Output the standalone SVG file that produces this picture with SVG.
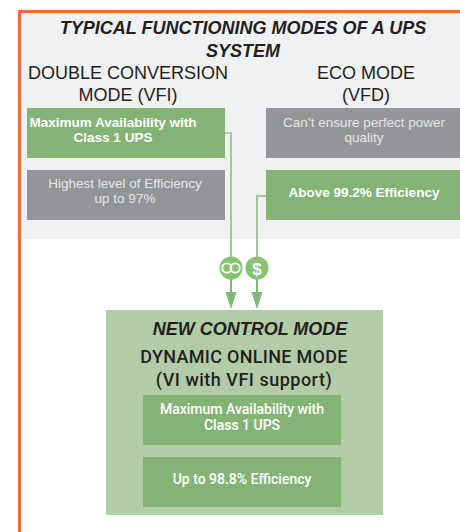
<svg xmlns="http://www.w3.org/2000/svg" width="460" height="532" viewBox="0 0 460 532">
<defs>
<style>
.t{font-family:"Liberation Sans",Arial,sans-serif;text-anchor:middle}
.m{font-family:Roboto,"Liberation Sans",Arial,sans-serif;font-weight:500}
.h{font-size:18px;fill:#231f20}
.hb{font-weight:bold;font-style:italic}
.s{font-size:13.5px}
.w{fill:#ffffff}
.g{fill:#e4e4e6}
.gb{fill:#84b475}
.gy{fill:#949599}
.con{fill:none;stroke:#9ecb96;stroke-width:2}
.con2{fill:none;stroke:#7fb872;stroke-width:2}
.arr{fill:#7fb872}
.ic{fill:#86c472}
</style>
</defs>
<rect x="0" y="0" width="460" height="532" fill="#ffffff"/>
<rect x="19.5" y="11.5" width="460" height="540" fill="none" stroke="#f26a35" stroke-width="3"/>
<rect x="23" y="14" width="437" height="225" fill="#f0f1f3"/>
<g id="title">
<text class="t h hb" x="243" y="34" font-size="18.5">TYPICAL FUNCTIONING MODES OF A UPS</text>
<text class="t h hb" x="243" y="57" font-size="18.5">SYSTEM</text>
</g>
<g id="vfi-header">
<text class="t h" x="128" y="79">DOUBLE CONVERSION</text>
<text class="t h" x="128" y="101">MODE (VFI)</text>
</g>
<g id="eco-header">
<text class="t h" x="366" y="79">ECO MODE</text>
<text class="t h" x="366" y="101">(VFD)</text>
</g>
<g id="vfi-availability">
<rect class="gb" x="27" y="108" width="198" height="50"/>
<text class="t s w" x="113" y="127" font-weight="bold">Maximum Availability with</text>
<text class="t s w" x="113" y="142" font-weight="bold">Class 1 UPS</text>
</g>
<g id="vfi-efficiency">
<rect class="gy" x="27" y="170" width="198" height="50"/>
<text class="t s g" x="125" y="188">Highest level of Efficiency</text>
<text class="t s g" x="125" y="203">up to 97%</text>
</g>
<g id="eco-quality">
<rect class="gy" x="266" y="108" width="194" height="50"/>
<text class="t s g" x="364" y="127">Can’t ensure perfect power</text>
<text class="t s g" x="364" y="142">quality</text>
</g>
<g id="eco-efficiency">
<rect class="gb" x="266" y="170" width="194" height="50"/>
<text class="t s w" x="364" y="197" font-weight="bold">Above 99.2% Efficiency</text>
</g>
<g id="connectors">
<path class="con" d="M225,133 H231 V257"/>
<path class="con" d="M266,196 H257 V257"/>
<path class="con2" d="M231,279 V293"/>
<path class="con2" d="M257,279 V293"/>
<polygon class="arr" points="225.5,292 236.5,292 231,309"/>
<polygon class="arr" points="251.5,292 262.5,292 257,309"/>
</g>
<g id="icon-availability">
<circle class="ic" cx="231" cy="268" r="11.5"/>
<circle cx="226.8" cy="268" r="4.6" fill="none" stroke="#ffffff" stroke-width="1.8"/>
<circle cx="235.2" cy="268" r="4.6" fill="none" stroke="#ffffff" stroke-width="1.8"/>
</g>
<g id="icon-efficiency">
<circle class="ic" cx="257" cy="268" r="11.5"/>
<text class="t w" x="257" y="274.5" font-size="17" font-weight="bold">$</text>
</g>
<g id="new-mode">
<rect x="106" y="310" width="277" height="205" fill="#b1cca7"/>
<text class="t h hb" x="250" y="335">NEW CONTROL MODE</text>
<text class="t m h" x="244" y="363" font-size="20" letter-spacing="0.3">DYNAMIC ONLINE MODE</text>
<text class="t m h" x="244" y="386" font-size="20" letter-spacing="0.5">(VI with VFI support)</text>
</g>
<g id="new-availability">
<rect class="gb" x="143" y="395" width="198" height="50"/>
<text class="t m w" x="242" y="414" font-size="14">Maximum Availability with</text>
<text class="t m w" x="242" y="430" font-size="14">Class 1 UPS</text>
</g>
<g id="new-efficiency">
<rect class="gb" x="143" y="457" width="198" height="50"/>
<text class="t m w" x="242" y="484" font-size="14">Up to 98.8% Efficiency</text>
</g>
</svg>
